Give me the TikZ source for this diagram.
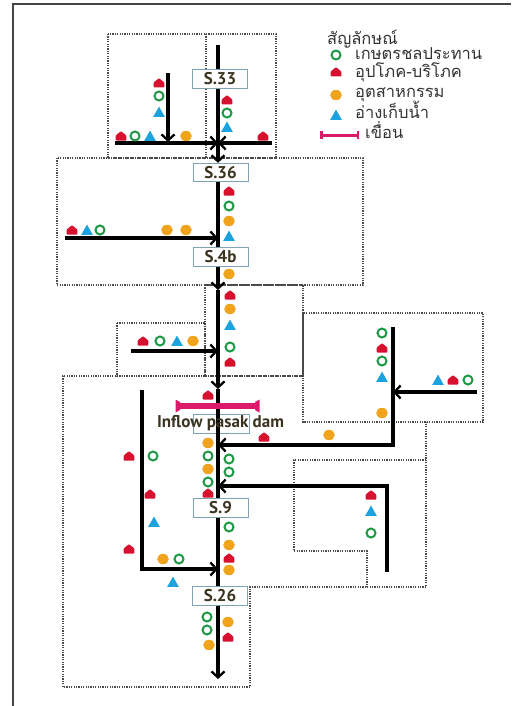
\documentclass[tikz,border=0pt]{standalone}
\usepackage{fontspec}
\usetikzlibrary{arrows.meta}
\newfontfamily\thaifont[Script=Thai]{Loma}
\newfontfamily\lblfont{PT Sans}
\definecolor{cgreen}{HTML}{1E9A45}
\definecolor{cred}{HTML}{D7102F}
\definecolor{corange}{HTML}{F0A31C}
\definecolor{cblue}{HTML}{1CA3DE}
\definecolor{cpink}{HTML}{DC1A6A}
\definecolor{boxc}{HTML}{7FA3B5}
\definecolor{txtc}{HTML}{3B3320}
\definecolor{zonec}{HTML}{4A4A4A}
\definecolor{framec}{HTML}{444444}
\tikzset{
  ring/.pic={\draw[cgreen, line width=2pt] (0,0) circle (4.5pt);},
  house/.pic={\fill[cred, rounded corners=0.8pt] (-5.3,4.5) -- (5.3,4.5) -- (5.3,-0.6) -- (0,-4.8) -- (-5.3,-0.6) -- cycle;},
  dot/.pic={\fill[corange] (0,0) ellipse [x radius=5.8pt, y radius=5.2pt];},
  tri/.pic={\fill[cblue] (-5.8,4.8) -- (5.8,4.8) -- (0,-5.4) -- cycle;},
  river/.style={line width=3.1pt, line cap=butt},
  flow/.style={river, -{Straight Barb[length=6pt,width=13pt,line width=2.3pt]}},
  zone/.style={draw=zonec, line width=1.2pt, dash pattern=on 1.2pt off 1.2pt},
  sbox/.style={draw=boxc, fill=white, line width=0.8pt, minimum width=55pt, minimum height=18.5pt, inner sep=0pt,
    font=\lblfont\bfseries\fontsize{17}{17}\selectfont, text=txtc},
  legtext/.style={anchor=base west, font=\thaifont\fontsize{16.5}{16.5}\selectfont, text=black!80, inner sep=0pt},
}
\begin{document}
\begin{tikzpicture}[x=1pt,y=-1pt]
\useasboundingbox (0,0) rectangle (511,706);
% frame
\draw[framec, line width=1.3pt] (13,706) -- (13,4) -- (511,4);

% dotted catchment zones
\draw[zone] (108,34) rectangle (276,158);
\draw[zone] (206,34) -- (206,158);
\draw[zone] (57,158) rectangle (363,285);
\draw[zone] (205,285) rectangle (303,376);
\draw[zone] (117,323) rectangle (205,376);
\draw[zone] (303,313) rectangle (483,422);
\draw[zone] (303,376) -- (63,376) -- (63,687) -- (250,687) -- (250,587) -- (426,587) -- (426,422);
\draw[zone] (426,460) -- (294,460) -- (294,551) -- (367,551) -- (367,587);

% station boxes
\node[sbox] (S33) at (220,79) {S.33};
\node[sbox] (S36) at (220.5,172.5) {S.36};
\node[sbox] (S4b) at (220.5,257) {S.4b};
\node[sbox] (S9) at (220.5,508) {S.9};
\node[sbox] (S26) at (220,596) {S.26};
\node[draw=boxc, line width=0.8pt, minimum width=56pt, minimum height=19pt, inner sep=0pt] (INF) at (221,423.5) {};

% junction coordinates on main river
\coordinate (top) at (218,45);
\coordinate (j33) at (218,143);
\coordinate (j36) at (218,238);
\coordinate (jA) at (218,290);
\coordinate (jm) at (218,351);
\coordinate (jB) at (218,389);
\coordinate (jr1) at (218,445);
\coordinate (jr2) at (218,486);
\coordinate (jl) at (218,569);
\coordinate (bot) at (218,679);

% main river
\draw[flow] (top) -- (top |- S36.north);
\draw[river] (S36.south -| top) -- (S4b.north -| top);
\draw[flow] (S4b.south -| top) -- (jA);
\draw[flow] (jA) -- (jB);
\draw[river] (jB) -- (INF.south -| top);
\draw[river] (INF.south -| top) -- (S9.north -| top);
\draw[river] (S9.south -| top) -- (S26.north -| top);
\draw[flow] (S26.south -| top) -- (bot);
% S.33 box sits over the river
\node[sbox] at (S33) {S.33};

% tributaries
\coordinate (t1) at (115,143);
\coordinate (t2) at (272,143);
\coordinate (t3a) at (168,73);
\coordinate (t3b) at (168,142);
\coordinate (t4) at (65,238);
\coordinate (t5) at (131,351);
\coordinate (t6a) at (477,392);
\coordinate (t6b) at (393,392);
\coordinate (t7a) at (393,327);
\coordinate (t7b) at (393,445);
\coordinate (t8a) at (387,572);
\coordinate (t8b) at (387,486);
\coordinate (t9a) at (142,390);
\coordinate (t9b) at (142,569);
\draw[flow] (t1) -- (j33);
\draw[flow] (t2) -- (j33);
\draw[flow] (t3a) -- (t3b);
\draw[flow] (t4) -- (j36);
\draw[flow] (t5) -- (jm);
\draw[flow] (t6a) -- (t6b);
\draw[flow] (t7a) -- (t7b) -- (jr1);
\draw[flow] (t8a) -- (t8b) -- (jr2);
\draw[flow] (t9a) -- (t9b) -- (jl);

% dam
\fill[cpink] (177,403) rectangle (258,409);
\fill[cpink] (175.5,399.5) -- (180,402) -- (180,410) -- (175.5,412.5) -- cycle;
\fill[cpink] (259.5,399.5) -- (255,402) -- (255,410) -- (259.5,412.5) -- cycle;
\node[font=\lblfont\bfseries\fontsize{17}{17}\selectfont, text=txtc, inner sep=0pt] (damlabel) at (220.5,423) {Inflow pasak dam};

% symbols: top zone
\pic at (159,83) {house}; \pic at (159,96) {ring}; \pic at (159,112) {tri};
\pic at (121,136) {house}; \pic at (135,136) {ring}; \pic at (150,136) {tri}; \pic at (186,136) {dot};
\pic at (227,100) {house}; \pic at (227,113) {ring}; \pic at (227,127) {tri};
\pic at (263,136) {house};
% S36 zone
\pic at (229,191) {house}; \pic at (229,206) {ring}; \pic at (229,221) {dot}; \pic at (229,236) {tri};
\pic at (72,230) {house}; \pic at (87,230) {tri}; \pic at (100,230) {ring}; \pic at (167,230) {dot}; \pic at (186,230) {dot};
\pic at (229,274) {dot};
% middle zone
\pic at (230,295) {house}; \pic at (230,309) {dot}; \pic at (230,325) {tri}; \pic at (230,347) {ring}; \pic at (230,362) {house};
\pic at (143,341) {house}; \pic at (160,341) {ring}; \pic at (177,341) {tri}; \pic at (193,341) {dot};
\pic at (208,395) {house};
% right zone
\pic at (382,333) {ring}; \pic at (382,348) {house}; \pic at (382,361) {ring}; \pic at (382,377) {tri}; \pic at (382,413) {dot};
\pic at (438,380) {tri}; \pic at (453,380) {house}; \pic at (468,380) {ring};
\pic at (329,435) {dot};
% lower zone
\pic at (264,437) {house};
\pic at (208,443) {dot}; \pic at (208,456) {ring}; \pic at (208,469) {dot}; \pic at (208,482) {ring}; \pic at (208,493) {house};
\pic at (229,459) {ring}; \pic at (229,472) {ring};
\pic at (229,527) {ring}; \pic at (229,545) {dot}; \pic at (229,558) {house}; \pic at (229,570) {dot};
\pic at (129,456) {house}; \pic at (153,456) {ring}; \pic at (150,494) {house}; \pic at (154,522) {tri};
\pic at (129,549) {house}; \pic at (163,559) {dot}; \pic at (179,559) {ring}; \pic at (173,582) {tri};
\pic at (371,495) {house}; \pic at (371,511) {tri}; \pic at (371,533) {ring};
\pic at (207,617) {ring}; \pic at (207,630) {ring}; \pic at (209,645) {dot};
\pic at (228,622) {dot}; \pic at (228,637) {house};

% legend
\node[legtext] (legtitle) at (327,45) {สัญลักษณ์};
\pic at (336,55) {ring};
\node[legtext] (leg1) at (355,60) {เกษตรชลประทาน};
\pic at (336,72) {house};
\node[legtext] (leg2) at (355,78) {อุปโภค-บริโภค};
\pic at (336,95) {dot};
\node[legtext] (leg3) at (355,98) {อุตสาหกรรม};
\pic at (336,115) {tri};
\node[legtext] (leg4) at (355,118) {อ่างเก็บน้ำ};
\fill[cpink] (321,133.5) rectangle (358,136.5);
\fill[cpink] (320,131) rectangle (322.5,139);
\fill[cpink] (356.5,131) rectangle (359,139);
\node[legtext] (leg5) at (365,139) {เขื่อน};
\end{tikzpicture}
\end{document}
